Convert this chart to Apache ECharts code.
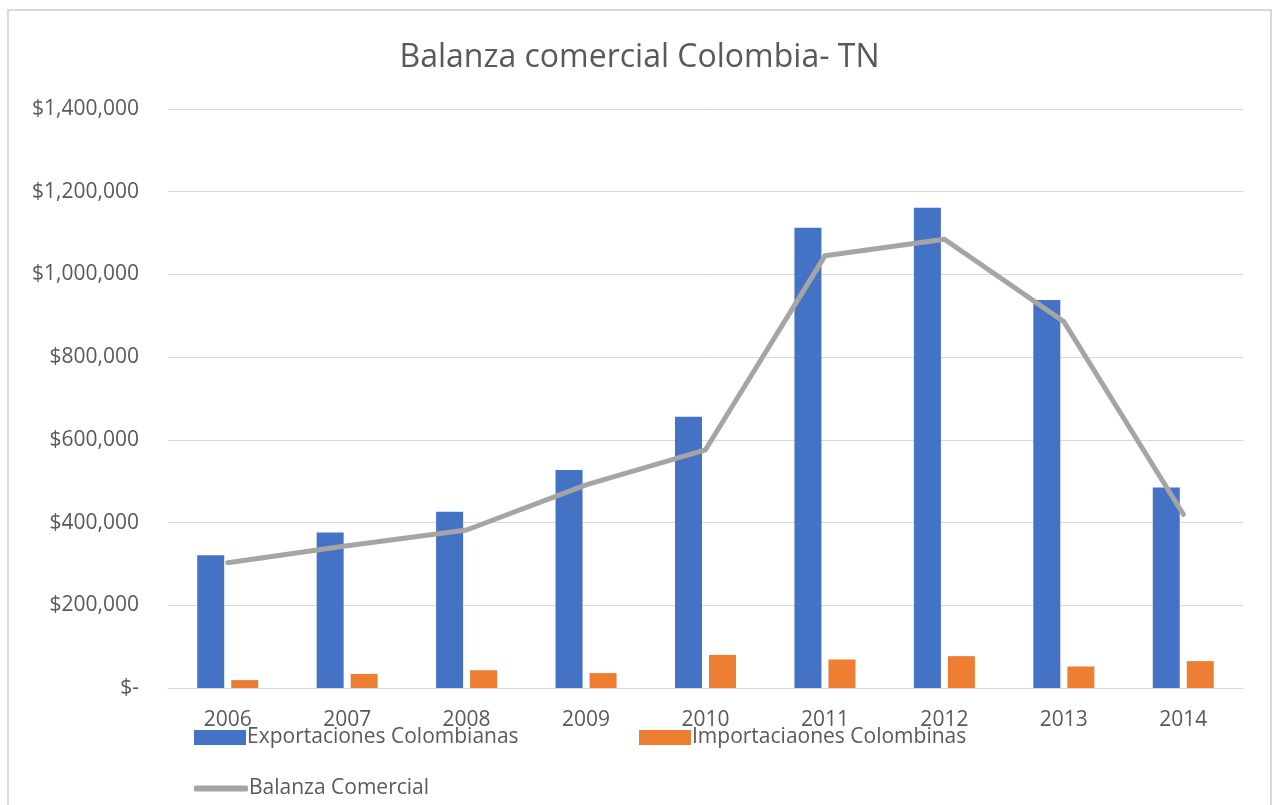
<!DOCTYPE html>
<html>
<head>
<meta charset="utf-8">
<script src="https://cdn.jsdelivr.net/npm/echarts@6/dist/echarts.min.js"></script>
<style>
html,body{margin:0;padding:0;background:#fff;}
#chart{width:1279px;height:805px;}
</style>
</head>
<body>
<div id="chart"></div>
<script>
const years = ['2006','2007','2008','2009','2010','2011','2012','2013','2014'];
const exportaciones = [321000, 376000, 426000, 527000, 656000, 1113000, 1161000, 938000, 485000];
const importaciones = [19000, 34000, 43000, 36000, 80000, 69000, 77000, 52000, 65000];
const balanza = [303000, 344000, 382000, 491000, 576000, 1045000, 1085000, 886000, 420000];
const yTicks = { min: 0, max: 1400000, interval: 200000 };

const font = '"Open Sans", "Noto Sans", sans-serif';
const txt = '#595959';

function fmt(v) {
  if (v === 0) return '$-';
  return '$' + v.toLocaleString('en-US');
}

const chart = echarts.init(document.getElementById('chart'));
chart.setOption({
  animation: false,
  backgroundColor: '#ffffff',
  graphic: [{
    type: 'rect',
    shape: { x: 8, y: 10, width: 1263, height: 820 },
    style: { fill: 'none', stroke: '#D9D9D9', lineWidth: 2 },
    silent: true, z: -1
  }],
  title: {
    text: 'Balanza comercial Colombia- TN',
    left: 'center',
    top: 37,
    textStyle: { fontFamily: font, fontSize: 32, fontWeight: 'normal', color: txt }
  },
  legend: [
    {
      data: ['Exportaciones Colombianas'],
      left: 189, top: 722, itemWidth: 52, itemHeight: 15, icon: 'rect', itemGap: 0,
      textStyle: { fontFamily: font, fontSize: 21, color: txt, padding: [0,0,0,-4] }
    },
    {
      data: ['Importaciaones Colombinas'],
      left: 634, top: 722, itemWidth: 52, itemHeight: 15, icon: 'rect', itemGap: 0,
      textStyle: { fontFamily: font, fontSize: 21, color: txt, padding: [0,0,0,-4] }
    },
    {
      data: ['Balanza Comercial'],
      left: 189, top: 773, itemWidth: 54, itemHeight: 6, icon: 'roundRect', itemGap: 0,
      textStyle: { fontFamily: font, fontSize: 21, color: txt, padding: [0,0,0,-4] }
    }
  ],
  grid: { left: 168, right: 36, top: 109, bottom: 117, containLabel: false },
  xAxis: {
    type: 'category',
    data: years,
    axisLine: { show: true, lineStyle: { color: '#D9D9D9', width: 1 } },
    axisTick: { show: false },
    axisLabel: { fontFamily: font, fontSize: 21, color: txt, margin: 22 }
  },
  yAxis: {
    type: 'value',
    min: yTicks.min, max: yTicks.max, interval: yTicks.interval,
    axisLine: { show: false },
    axisTick: { show: false },
    splitLine: { lineStyle: { color: '#D9D9D9', width: 1 } },
    axisLabel: { fontFamily: font, fontSize: 21, color: txt, margin: 29, formatter: fmt }
  },
  series: [
    {
      name: 'Exportaciones Colombianas',
      type: 'bar',
      data: exportaciones,
      barWidth: 27,
      barGap: '26%',
      itemStyle: { color: '#4472C4' }
    },
    {
      name: 'Importaciaones Colombinas',
      type: 'bar',
      data: importaciones,
      barWidth: 27,
      itemStyle: { color: '#ED7D31' }
    },
    {
      name: 'Balanza Comercial',
      type: 'line',
      data: balanza,
      symbol: 'none',
      showSymbol: false,
      itemStyle: { color: '#A5A5A5' },
      lineStyle: { color: '#A5A5A5', width: 5, cap: 'round', join: 'round' },
      z: 3
    }
  ]
});
</script>
</body>
</html>
